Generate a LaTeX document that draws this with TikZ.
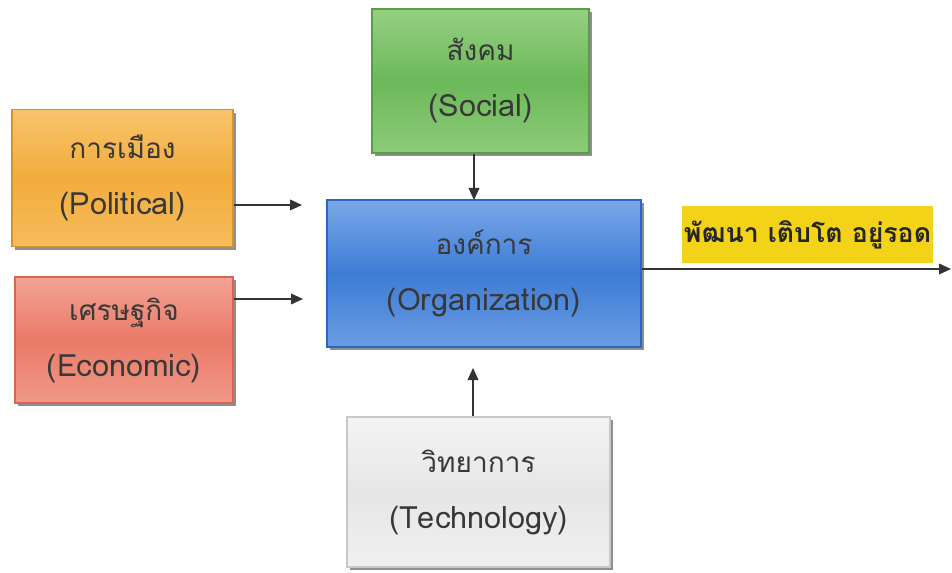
\documentclass[tikz,border=0pt]{standalone}
\usepackage{fontspec}
\newfontfamily\thaifont[Script=Thai]{Loma}
\usetikzlibrary{arrows.meta,shadows}
\definecolor{orT}{HTML}{F8C46C}\definecolor{orM}{HTML}{F2AC3C}\definecolor{orB}{HTML}{F7BC5C}\definecolor{orD}{HTML}{D8922A}
\definecolor{rdT}{HTML}{F3A394}\definecolor{rdM}{HTML}{EA7A68}\definecolor{rdB}{HTML}{F09888}\definecolor{rdD}{HTML}{D86452}
\definecolor{grT}{HTML}{96D082}\definecolor{grM}{HTML}{6CB85A}\definecolor{grB}{HTML}{8CCB78}\definecolor{grD}{HTML}{55A044}
\definecolor{blT}{HTML}{7AA8E8}\definecolor{blM}{HTML}{3E7CD6}\definecolor{blB}{HTML}{6A9CE2}\definecolor{blD}{HTML}{2A68C0}
\definecolor{wtT}{HTML}{F4F4F4}\definecolor{wtM}{HTML}{E6E6E6}\definecolor{wtB}{HTML}{F0F0F0}\definecolor{wtD}{HTML}{C8C8C8}
\definecolor{ylw}{HTML}{F2D318}
\definecolor{txt}{HTML}{383838}
\newcommand{\lat}[1]{{\fontsize{23}{30}\selectfont #1}}
\tikzset{
  fbox/.style n args={4}{draw=#4, line width=0.8pt, top color=#1, bottom color=#3, middle color=#2,
    drop shadow={shadow xshift=2.5pt, shadow yshift=-2.5pt, fill=black!55, opacity=0.8},
    align=center, text=txt, inner sep=0pt, font=\thaifont\fontsize{21}{42}\selectfont},
  arr/.style={-{Triangle[length=9pt,width=8pt]}, line width=1.2pt, draw=black!80},
}
\begin{document}
\begin{tikzpicture}[x=0.75pt,y=-0.75pt]
\useasboundingbox (0,0) rectangle (952,573);
\fill[white] (0,0) rectangle (952,573);
\node[fbox={orT}{orM}{orB}{orD}, minimum width=221*0.75pt, minimum height=137*0.75pt] (pol) at (122.5,178) {การเมือง\\\lat{(Political)}};
\node[fbox={rdT}{rdM}{rdB}{rdD}, minimum width=218*0.75pt, minimum height=126*0.75pt] (eco) at (124,340) {เศรษฐกิจ\\\lat{(Economic)}};
\node[fbox={grT}{grM}{grB}{grD}, minimum width=217*0.75pt, minimum height=144*0.75pt] (soc) at (480.5,81) {สังคม\\\lat{(Social)}};
\node[fbox={blT}{blM}{blB}{blD}, minimum width=314*0.75pt, minimum height=147*0.75pt] (org) at (484,273.5) {องค์การ\\\lat{(Organization)}};
\node[fbox={wtT}{wtM}{wtB}{wtD}, minimum width=263*0.75pt, minimum height=150*0.75pt] (tec) at (478.5,492) {วิทยาการ\\\lat{(Technology)}};
\node[fill=ylw, minimum width=251*0.75pt, minimum height=57*0.75pt, inner sep=0pt, text=black!85, font=\thaifont\bfseries\fontsize{20}{24}\selectfont] (out) at (807.5,234.5) {พัฒนา เติบโต อยู่รอด};
\coordinate (polA) at (302,205);
\coordinate (ecoA) at (303,299);
\coordinate (socA) at (474,200);
\coordinate (tecA) at (473,368);
\coordinate (outA) at (951,269);
\draw[arr] (pol.east |- polA) -- (polA);
\draw[arr] (eco.east |- ecoA) -- (ecoA);
\draw[arr] (soc.south -| socA) -- (socA);
\draw[arr] (tec.north -| tecA) -- (tecA);
\draw[arr] (org.east |- outA) -- (outA);
\end{tikzpicture}
\end{document}
